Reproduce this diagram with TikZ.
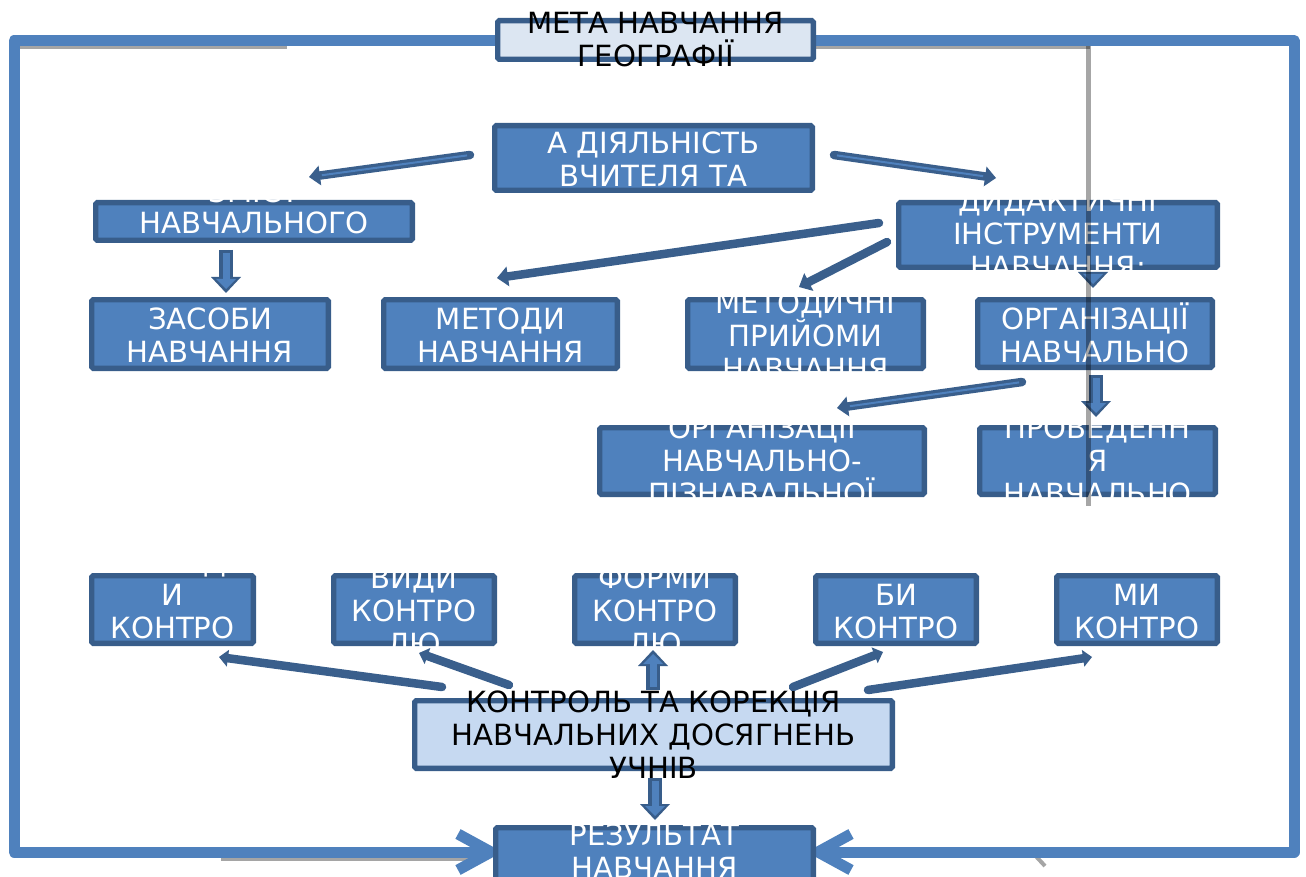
\documentclass[tikz,border=0pt]{standalone}
\usepackage{fontspec}
\setmainfont{DejaVu Sans}
\usetikzlibrary{arrows.meta,calc}
\definecolor{fillb}{HTML}{4F81BD}
\definecolor{edgeb}{HTML}{385D8A}
\definecolor{arrb}{HTML}{3A5F8C}
\definecolor{lightA}{HTML}{DCE6F2}
\definecolor{lightB}{HTML}{C6D9F1}
\definecolor{shadowg}{HTML}{A5A5A5}
\newcommand\bx[6]{\node[#6, minimum width={#4-#2-5.4}, minimum height={#5-#3-5.4}] (#1) at ({(#2+#4)/2},{(#3+#5)/2}) {};}
\tikzset{
  box/.style={draw=edgeb, line width=5.4pt, fill=fillb, rounded corners=1.5pt, inner sep=0pt, outer sep=2.7pt},
  boxA/.style={box, fill=lightA},
  boxB/.style={box, fill=lightB},
  wt/.style={text=white, anchor=base, inner sep=0pt, outer sep=0pt, font=\fontsize{29.2}{33}\selectfont},
  bt/.style={wt, text=black},
  frameln/.style={draw=fillb, line width=11pt, line join=round},
  chev/.style={draw=fillb, line width=11pt, line join=miter, line cap=butt},
  shad/.style={draw=shadowg, line width=3pt},
  thinarr/.style={draw=arrb, line width=8.5pt, line cap=round, -{Triangle[width=20pt,length=11pt,line width=0pt]}},
  stripe/.style={draw=fillb, line width=2pt, shorten >=13pt, shorten <=3pt},
  roundarr/.style={draw=arrb, line width=8.5pt, line cap=round, -{Triangle[width=17pt,length=9pt,round,line width=0pt]}},
  blkout/.style={draw=edgeb, line width=14pt, -{Triangle[width=30pt,length=16pt,line width=0pt]}},
  blkin/.style={draw=fillb, line width=7pt, shorten >=4pt, shorten <=3pt, -{Triangle[width=20pt,length=10pt,line width=0pt]}},
}
\begin{document}
\begin{tikzpicture}[x=1pt,y=-1pt]
\useasboundingbox (0,0) rectangle (1306,877);
% shadows of the frame
\draw[shad] (20,47.5) -- (287,47.5);
\draw[shad] (816,47.5) -- (1090,47.5);
\draw[shad] (221,859.5) -- (472,859.5);
\draw[shad] (470,867) -- (490,855);
\draw[shad, line width=4pt] (1031,851) -- (1045,866);
% boxes
\bx{t1}{492}{123}{815}{193}{box}
\bx{zm}{93}{200}{415}{243}{box}
\bx{di}{896}{200}{1220}{270}{box}
\bx{za}{89}{297}{331}{371}{box}
\bx{me}{381}{297}{620}{371}{box}
\bx{mp}{685}{297}{926}{371}{box}
\bx{or}{975}{297}{1215}{370}{box}
\bx{op}{597}{425}{927}{497}{box}
\bx{pr}{977}{425}{1218}{497}{box}
\bx{k1}{89}{573}{256}{646}{box}
\bx{k2}{331}{573}{497}{646}{box}
\bx{k3}{572}{573}{738}{646}{box}
\bx{k4}{813}{573}{979}{646}{box}
\bx{k5}{1054}{573}{1220}{646}{box}
\bx{kk}{412}{698}{895}{771}{boxB}
% frame (two bent arrows from the goal box to the result box)
\coordinate (cTL) at (14,40.5);
\coordinate (cBL) at (14,852);
\coordinate (cTR) at (1294,40.5);
\coordinate (cBR) at (1294,852);
\coordinate (fL) at (491,852);
\coordinate (fR) at (818,852);
\draw[frameln] (655,40.5) -- (cTL) -- (cBL) -- (fL);
\draw[frameln] (655,40.5) -- (cTR) -- (cBR) -- (fR);
\draw[chev] ($(fL)+(-33,-18)$) -- (fL) -- ($(fL)+(-33,18)$);
\draw[chev] ($(fR)+(33,-18)$) -- (fR) -- ($(fR)+(33,18)$);
\bx{top}{495}{18}{816}{62}{boxA}
\bx{rz}{493}{825}{816}{897}{box}
% texts
\node[bt] (topa) at (655.5,33.5) {МЕТА НАВЧАННЯ};
\node[bt] (topb) at (655.5,66.5) {ГЕОГРАФІЇ};
\node[wt] (t1a) at (653.5,154) {А ДІЯЛЬНІСТЬ};
\node[wt] (t1b) at (653.5,187) {ВЧИТЕЛЯ ТА};
\node[wt] (zma) at (254,202.5) {ЗМІСТ};
\node[wt] (zmb) at (254,234) {НАВЧАЛЬНОГО};
\node[wt] (zmc) at (254,267) {МАТЕРІАЛУ};
\node[wt] (dia) at (1058,212) {ДИДАКТИЧНІ};
\node[wt] (dib) at (1058,245) {ІНСТРУМЕНТИ};
\node[wt] (dic) at (1058,278) {НАВЧАННЯ:};
\node[wt] (zaa) at (210,329.5) {ЗАСОБИ};
\node[wt] (zab) at (210,362.5) {НАВЧАННЯ};
\node[wt] (mea) at (500.5,329.5) {МЕТОДИ};
\node[wt] (meb) at (500.5,362.5) {НАВЧАННЯ};
\node[wt] (mpa) at (805.5,313) {МЕТОДИЧНІ};
\node[wt] (mpb) at (805.5,346) {ПРИЙОМИ};
\node[wt] (mpc) at (805.5,379) {НАВЧАННЯ};
\node[wt] (ora) at (1095,329.5) {ОРГАНІЗАЦІЇ};
\node[wt] (orb) at (1095,362.5) {НАВЧАЛЬНО};
\node[wt] (opa) at (762,438) {ОРГАНІЗАЦІЇ};
\node[wt] (opb) at (762,471) {НАВЧАЛЬНО-};
\node[wt] (opc) at (762,504) {ПІЗНАВАЛЬНОЇ};
\node[wt] (pra) at (1097.5,438) {ПРОВЕДЕНН};
\node[wt] (prb) at (1097.5,471) {Я};
\node[wt] (prc) at (1097.5,504) {НАВЧАЛЬНО};
\node[wt] (k1a) at (172.5,572) {МЕТОД};
\node[wt] (k1b) at (172.5,605) {И};
\node[wt] (k1c) at (172.5,638) {КОНТРО};
\node[wt] (k2a) at (414,588) {ВИДИ};
\node[wt] (k2b) at (414,621) {КОНТРО};
\node[wt] (k2c) at (414,654) {ЛЮ};
\node[wt] (k3a) at (655,588) {ФОРМИ};
\node[wt] (k3b) at (655,621) {КОНТРО};
\node[wt] (k3c) at (655,654) {ЛЮ};
\node[wt] (k4a) at (896,605) {БИ};
\node[wt] (k4b) at (896,638) {КОНТРО};
\node[wt] (k5a) at (1137,605) {МИ};
\node[wt] (k5b) at (1137,638) {КОНТРО};
\node[bt] (kka) at (653.5,712) {КОНТРОЛЬ ТА КОРЕКЦІЯ};
\node[bt] (kkb) at (653.5,745) {НАВЧАЛЬНИХ ДОСЯГНЕНЬ};
\node[bt] (kkc) at (653.5,778) {УЧНІВ};
\node[wt] (rza) at (654.5,845) {РЕЗУЛЬТАТ};
\node[wt] (rzb) at (654.5,878) {НАВЧАННЯ};
% thin arrows
\draw[thinarr] ($(t1.west)+(-22,-3)$) -- ($(zm.north)+(55,-23)$);
\draw[stripe] ($(t1.west)+(-22,-3)$) -- ($(zm.north)+(55,-23)$);
\draw[thinarr] ($(t1.east)+(19,-3)$) -- ($(di.north)+(-62,-22)$);
\draw[stripe] ($(t1.east)+(19,-3)$) -- ($(di.north)+(-62,-22)$);
\draw[thinarr] ($(di.west)+(-17,-12)$) -- ($(me.north)+(-3.5,-19)$);
\draw[thinarr] ($(di.west)+(-9,7)$) -- ($(mp.north)+(-6.5,-10)$);
\draw[thinarr] ($(or.south)+(-73,12)$) -- ($(op.north)+(75,-17)$);
\draw[stripe] ($(or.south)+(-73,12)$) -- ($(op.north)+(75,-17)$);
\draw[roundarr] ($(kk.north)+(-211.5,-11)$) -- ($(k1.south)+(46.5,11)$);
\draw[roundarr] ($(kk.north)+(-144.5,-13)$) -- ($(k2.south)+(5,7)$);
\draw[roundarr] ($(kk.north)+(139.5,-11)$) -- ($(k4.south)+(-13,6)$);
\draw[roundarr] ($(kk.north)+(214.5,-8)$) -- ($(k5.south)+(-45,11)$);
% block arrows
\draw[blkout] ($(zm.south)+(-28,7)$) -- ($(za.north)+(16,-4)$);
\draw[blkin] ($(zm.south)+(-28,7)$) -- ($(za.north)+(16,-4)$);
\draw[blkout] ($(di.south)+(35,2)$) -- ($(or.north)+(-2,-9)$);
\draw[blkin] ($(di.south)+(35,2)$) -- ($(or.north)+(-2,-9)$);
\draw[blkout] ($(or.south)+(1,5)$) -- ($(pr.north)+(-1.5,-8)$);
\draw[blkin] ($(or.south)+(1,5)$) -- ($(pr.north)+(-1.5,-8)$);
\draw[blkout] ($(kk.north)+(-0.5,-8)$) -- ($(k3.south)+(-2,4)$);
\draw[blkin] ($(kk.north)+(-0.5,-8)$) -- ($(k3.south)+(-2,4)$);
\draw[blkout] ($(kk.south)+(1.5,7)$) -- ($(rz.north)+(0.5,-5)$);
\draw[blkin] ($(kk.south)+(1.5,7)$) -- ($(rz.north)+(0.5,-5)$);
% grey line over everything
\draw[black, opacity=0.35, line width=4.5pt] (1088.5,46) -- (1088.5,506);
\end{tikzpicture}
\end{document}
